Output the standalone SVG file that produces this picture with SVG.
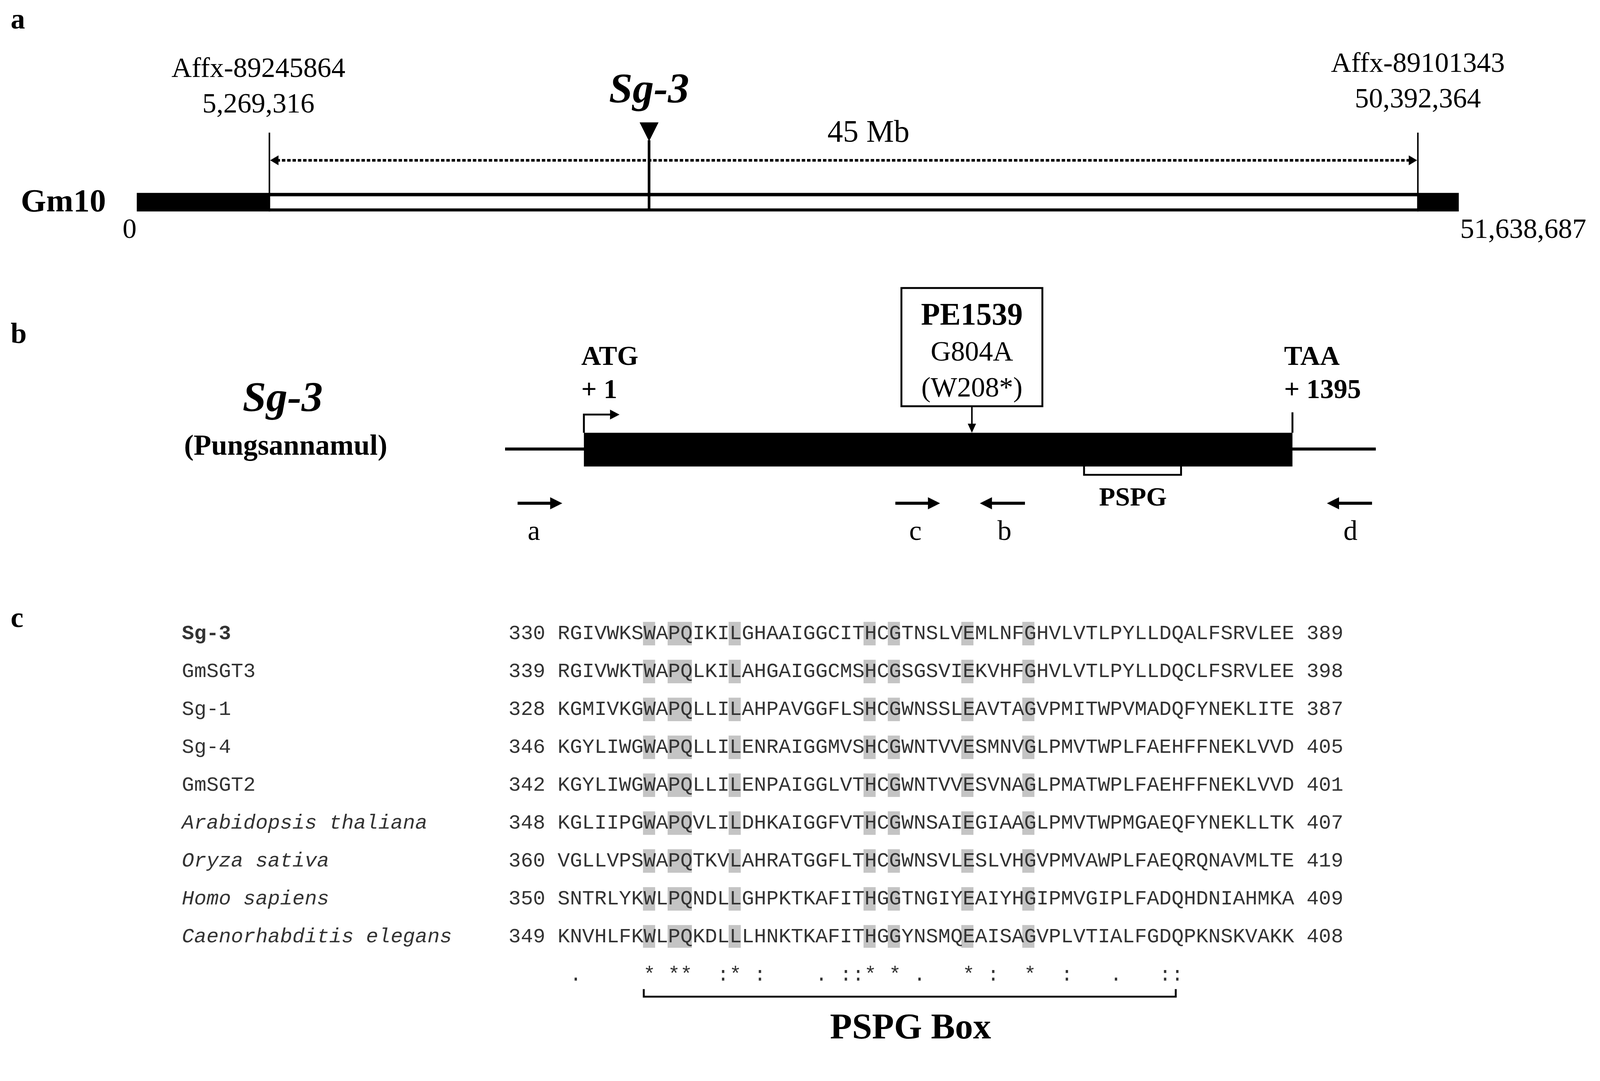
<svg xmlns="http://www.w3.org/2000/svg" width="4224" height="2767" viewBox="0 0 4224 2767">
<style>
.s{font-family:"Liberation Serif",serif;fill:#000}
.b{font-weight:bold}
.m{font-family:"Liberation Mono",monospace;font-size:54px;fill:#333}
.hl{fill:#c4c4c4}
</style>
<rect width="4224" height="2767" fill="#fff"/>
<g transform="scale(0.97)">
<g id="panel-a">
<text class="s b" x="28" y="75" font-size="76">a</text>
<text class="s" x="682" y="203" font-size="74" text-anchor="middle">Affx-89245864</text>
<text class="s" x="682" y="297" font-size="74" text-anchor="middle">5,269,316</text>
<text class="s" x="3742" y="190" font-size="74" text-anchor="middle">Affx-89101343</text>
<text class="s" x="3742" y="284" font-size="74" text-anchor="middle">50,392,364</text>
<text class="s b" x="1713" y="270" font-size="112" font-style="italic" text-anchor="middle">Sg-3</text>
<text class="s" x="2292" y="374" font-size="82" text-anchor="middle">45 Mb</text>
<text class="s b" x="55" y="558" font-size="86">Gm10</text>
<text class="s" x="342" y="628" font-size="74" text-anchor="middle">0</text>
<text class="s" x="4020" y="628" font-size="74" text-anchor="middle">51,638,687</text>
<rect x="361" y="509" width="3489" height="49" fill="#000"/>
<rect x="711" y="518" width="3031" height="32" fill="#fff"/>
<line x1="711" y1="350" x2="711" y2="558" stroke="#000" stroke-width="4"/>
<line x1="3742" y1="350" x2="3742" y2="558" stroke="#000" stroke-width="4"/>
<line x1="1713" y1="370" x2="1713" y2="552" stroke="#000" stroke-width="7"/>
<path d="M1688,323 L1738,323 L1713,373 Z" fill="#000"/>
<line x1="730" y1="423" x2="3722" y2="423" stroke="#000" stroke-width="7" stroke-dasharray="9,5"/>
<path d="M713,423 L735,410 L735,436 Z" fill="#000"/>
<path d="M3740,423 L3718,410 L3718,436 Z" fill="#000"/>
</g>
<g id="panel-b">
<text class="s b" x="28" y="905" font-size="76">b</text>
<text class="s b" x="746" y="1085" font-size="112" font-style="italic" text-anchor="middle">Sg-3</text>
<text class="s b" x="754" y="1200" font-size="76" text-anchor="middle">(Pungsannamul)</text>
<line x1="1333" y1="1185" x2="3631" y2="1185" stroke="#000" stroke-width="8"/>
<rect x="1541" y="1142" width="1870" height="89" fill="#000"/>
<text class="s b" x="1534" y="963" font-size="72">ATG</text>
<text class="s b" x="1534" y="1050" font-size="72">+ 1</text>
<path d="M1541,1142 L1541,1094 L1615,1094" fill="none" stroke="#000" stroke-width="5"/>
<path d="M1635,1094 L1610,1081 L1610,1107 Z" fill="#000"/>
<text class="s b" x="3389" y="963" font-size="72">TAA</text>
<text class="s b" x="3389" y="1050" font-size="72">+ 1395</text>
<line x1="3411" y1="1088" x2="3411" y2="1142" stroke="#000" stroke-width="5"/>
</g>
<g id="pe1539">
<rect x="2379" y="760" width="372" height="312" fill="#fff" stroke="#000" stroke-width="5"/>
<text class="s b" x="2565" y="857" font-size="82" text-anchor="middle">PE1539</text>
<text class="s" x="2565" y="952" font-size="74" text-anchor="middle">G804A</text>
<text class="s" x="2565" y="1046" font-size="74" text-anchor="middle">(W208*)</text>
<line x1="2565" y1="1072" x2="2565" y2="1122" stroke="#000" stroke-width="4"/>
<path d="M2565,1142 L2554,1118 L2576,1118 Z" fill="#000"/>
</g>
<g id="pspg-b">
<path d="M2861,1231 L2861,1253 L3117,1253 L3117,1231" fill="none" stroke="#000" stroke-width="5"/>
<text class="s b" x="2990" y="1334" font-size="70" text-anchor="middle">PSPG</text>
</g>
<g id="primers">
<line x1="1366" y1="1328" x2="1455" y2="1328" stroke="#000" stroke-width="8"/><path d="M1484,1328 L1452,1312 L1452,1344 Z"/>
<line x1="2363" y1="1328" x2="2452" y2="1328" stroke="#000" stroke-width="8"/><path d="M2481,1328 L2449,1312 L2449,1344 Z"/>
<line x1="2705" y1="1328" x2="2616" y2="1328" stroke="#000" stroke-width="8"/><path d="M2586,1328 L2618,1312 L2618,1344 Z"/>
<line x1="3621" y1="1328" x2="3532" y2="1328" stroke="#000" stroke-width="8"/><path d="M3502,1328 L3534,1312 L3534,1344 Z"/>
<text class="s" x="1409" y="1425" font-size="74" text-anchor="middle">a</text>
<text class="s" x="2416" y="1425" font-size="74" text-anchor="middle">c</text>
<text class="s" x="2651" y="1425" font-size="74" text-anchor="middle">b</text>
<text class="s" x="3564" y="1425" font-size="74" text-anchor="middle">d</text>
</g>
<g id="panel-c">
<text class="s b" x="28" y="1655" font-size="76">c</text>
<g id="highlights">
<rect class="hl" x="1697" y="1641" width="32" height="860"/>
<rect class="hl" x="1762" y="1641" width="64" height="860"/>
<rect class="hl" x="1923" y="1641" width="32" height="860"/>
<rect class="hl" x="2279" y="1641" width="32" height="860"/>
<rect class="hl" x="2343" y="1641" width="32" height="860"/>
<rect class="hl" x="2537" y="1641" width="32" height="860"/>
<rect class="hl" x="2698" y="1641" width="32" height="860"/>
</g>
<g fill="#fff">
<rect x="1690" y="1703" width="1050" height="38"/>
<rect x="1690" y="1803" width="1050" height="38"/>
<rect x="1690" y="1903" width="1050" height="38"/>
<rect x="1690" y="2003" width="1050" height="38"/>
<rect x="1690" y="2103" width="1050" height="38"/>
<rect x="1690" y="2203" width="1050" height="38"/>
<rect x="1690" y="2303" width="1050" height="38"/>
<rect x="1690" y="2403" width="1050" height="38"/>
</g>
<text class="m" x="480" y="1687" font-weight="bold" fill="#000">Sg-3</text>
<text class="m" x="480" y="1787">GmSGT3</text>
<text class="m" x="480" y="1887">Sg-1</text>
<text class="m" x="480" y="1987">Sg-4</text>
<text class="m" x="480" y="2087">GmSGT2</text>
<text class="m" x="480" y="2187" font-style="italic">Arabidopsis thaliana</text>
<text class="m" x="480" y="2287" font-style="italic">Oryza sativa</text>
<text class="m" x="480" y="2387" font-style="italic">Homo sapiens</text>
<text class="m" x="480" y="2487" font-style="italic">Caenorhabditis elegans</text>
<text class="m" x="1342" y="1687">330 RGIVWKSWAPQIKILGHAAIGGCITHCGTNSLVEMLNFGHVLVTLPYLLDQALFSRVLEE 389</text>
<text class="m" x="1342" y="1787">339 RGIVWKTWAPQLKILAHGAIGGCMSHCGSGSVIEKVHFGHVLVTLPYLLDQCLFSRVLEE 398</text>
<text class="m" x="1342" y="1887">328 KGMIVKGWAPQLLILAHPAVGGFLSHCGWNSSLEAVTAGVPMITWPVMADQFYNEKLITE 387</text>
<text class="m" x="1342" y="1987">346 KGYLIWGWAPQLLILENRAIGGMVSHCGWNTVVESMNVGLPMVTWPLFAEHFFNEKLVVD 405</text>
<text class="m" x="1342" y="2087">342 KGYLIWGWAPQLLILENPAIGGLVTHCGWNTVVESVNAGLPMATWPLFAEHFFNEKLVVD 401</text>
<text class="m" x="1342" y="2187">348 KGLIIPGWAPQVLILDHKAIGGFVTHCGWNSAIEGIAAGLPMVTWPMGAEQFYNEKLLTK 407</text>
<text class="m" x="1342" y="2287">360 VGLLVPSWAPQTKVLAHRATGGFLTHCGWNSVLESLVHGVPMVAWPLFAEQRQNAVMLTE 419</text>
<text class="m" x="1342" y="2387">350 SNTRLYKWLPQNDLLGHPKTKAFITHGGTNGIYEAIYHGIPMVGIPLFADQHDNIAHMKA 409</text>
<text class="m" x="1342" y="2487">349 KNVHLFKWLPQKDLLLHNKTKAFITHGGYNSMQEAISAGVPLVTIALFGDQPKNSKVAKK 408</text>
<text class="m" x="1471" y="2588" xml:space="preserve"> .     * **  :* :    . ::* * .   * :  *  :   .   ::</text>
<path d="M1699,2610 L1699,2630 L3103,2630 L3103,2610" fill="none" stroke="#000" stroke-width="5"/>
<text class="s b" x="2403" y="2740" font-size="95" text-anchor="middle">PSPG Box</text>
</g>
</g>
</svg>
